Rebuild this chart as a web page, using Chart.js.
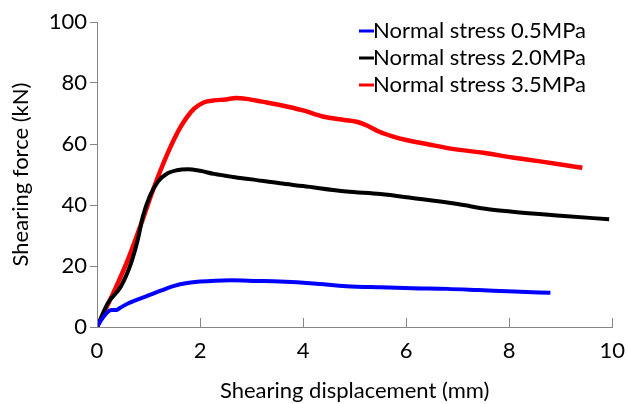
<!DOCTYPE html>
<html>
<head>
<meta charset="utf-8">
<script src="https://cdn.jsdelivr.net/npm/chart.js@4.4.1/dist/chart.umd.min.js"></script>
<style>
  html, body { margin: 0; padding: 0; background: #fff; }
  #wrap { width: 628px; height: 404px; position: relative; }
</style>
</head>
<body>
<div id="wrap"><canvas id="chart"></canvas></div>
<script>
// series (displacement in mm, force in kN)
const dispLow = [0, 0.08, 0.28, 0.38, 0.45, 0.61, 0.93, 1.25, 1.5, 1.75, 2.0, 2.3, 2.6, 3.1, 3.55, 4.2, 4.84, 5.5, 6.12, 6.8, 7.4, 8.1, 8.8]
const forceLow = [0, 2.3, 5.6, 5.6, 6.3, 7.8, 9.9, 12, 13.5, 14.4, 14.9, 15.2, 15.3, 15.1, 14.9, 14.3, 13.4, 13, 12.7, 12.5, 12.1, 11.6, 11.2]

const dispMid = [0, 0.21, 0.46, 0.66, 0.79, 0.89, 1.02, 1.18, 1.37, 1.55, 1.76, 2.0, 2.27, 2.64, 3.0, 3.55, 4.0, 4.84, 5.5, 6.12, 7.0, 7.6, 8.06, 9.0, 9.94]
const forceMid = [0, 7.8, 13.2, 20.9, 28.5, 36.2, 42.7, 47.6, 50.4, 51.4, 51.7, 51.2, 50.2, 49.2, 48.4, 47.1, 46.2, 44.4, 43.6, 42.3, 40.3, 38.6, 37.8, 36.5, 35.3]

const dispHigh = [0, 0.34, 0.61, 0.85, 1.1, 1.36, 1.62, 1.88, 2.08, 2.27, 2.5, 2.7, 2.9, 3.2, 3.55, 4.0, 4.38, 4.8, 5.04, 5.25, 5.48, 5.75, 6.0, 6.4, 6.9, 7.5, 8.06, 8.6, 9.0, 9.42]
const forceHigh = [0, 12, 22.5, 33.5, 45.5, 56.5, 65.5, 71.5, 73.7, 74.3, 74.6, 75.1, 74.8, 73.9, 72.8, 71, 69, 67.9, 67.3, 66, 64, 62.4, 61.3, 60, 58.4, 57.1, 55.6, 54.3, 53.3, 52.2]

const seriesLabels = ['Normal stress 0.5MPa', 'Normal stress 2.0MPa', 'Normal stress 3.5MPa']
const seriesColours = ['#0000ff', '#000000', '#ff0000']
const xTicks = [0, 2, 4, 6, 8, 10]
const yTicks = [0, 20, 40, 60, 80, 100]

const FONT = 'Lato, "Open Sans", sans-serif'
const AXIS_GREY = '#868686'

function toPoints(xs, ys) {
  return xs.map((x, i) => ({ x, y: ys[i] }))
}

// x ticks point up into the plot in the reference
const innerTicks = {
  id: 'innerTicks',
  afterDraw(chart) {
    const { ctx, scales: { x }, chartArea } = chart
    ctx.save()
    ctx.strokeStyle = AXIS_GREY
    ctx.lineWidth = 1
    xTicks.forEach((v) => {
      const px = Math.round(x.getPixelForValue(v)) + 0.5
      ctx.beginPath()
      ctx.moveTo(px, chartArea.bottom)
      ctx.lineTo(px, chartArea.bottom - 9)
      ctx.stroke()
    })
    ctx.restore()
  },
}

// legend drawn as in the reference: short line then label, top right
const lineLegend = {
  id: 'lineLegend',
  afterDraw(chart) {
    const { ctx } = chart
    ctx.save()
    ctx.font = '22px ' + FONT
    ctx.textBaseline = 'middle'
    ctx.textAlign = 'left'
    seriesLabels.forEach((label, i) => {
      const y = 31 + i * 27
      ctx.strokeStyle = seriesColours[i]
      ctx.lineWidth = 3
      ctx.beginPath()
      ctx.moveTo(359, y)
      ctx.lineTo(374, y)
      ctx.stroke()
      ctx.fillStyle = '#000'
      ctx.fillText(label, 373, y)
    })
    ctx.restore()
  },
}

const datasets = [
  toPoints(dispLow, forceLow),
  toPoints(dispMid, forceMid),
  toPoints(dispHigh, forceHigh),
].map((data, i) => ({
  label: seriesLabels[i],
  data,
  borderColor: seriesColours[i],
  backgroundColor: seriesColours[i],
  borderWidth: i === 2 ? 4.5 : 4,
  pointRadius: 0,
  showLine: true,
  cubicInterpolationMode: 'monotone',
  fill: false,
}))

new Chart(document.getElementById('chart'), {
  type: 'scatter',
  data: { datasets },
  options: {
    responsive: true,
    maintainAspectRatio: false,
    animation: false,
    layout: { padding: { top: 22, right: 15, left: 0, bottom: 0 } },
    plugins: {
      legend: { display: false },
      tooltip: { enabled: false },
    },
    scales: {
      x: {
        type: 'linear',
        min: 0,
        max: 10,
        afterBuildTicks: (scale) => { scale.ticks = xTicks.map((v) => ({ value: v })) },
        afterFit: (scale) => { scale.height = 77 },
        border: { display: true, color: AXIS_GREY, width: 1 },
        grid: { display: false },
        ticks: { color: '#000', font: { family: FONT, size: 22 }, padding: 3, maxRotation: 0 },
        title: {
          display: true,
          text: 'Shearing displacement (mm)',
          color: '#000',
          font: { family: FONT, size: 22 },
          padding: { top: 4, bottom: 0 },
        },
      },
      y: {
        min: 0,
        max: 100,
        afterBuildTicks: (scale) => { scale.ticks = yTicks.map((v) => ({ value: v })) },
        afterFit: (scale) => { scale.width = 97 },
        border: { display: true, color: AXIS_GREY, width: 1 },
        grid: { display: true, drawOnChartArea: false, drawTicks: true, tickLength: 7, color: AXIS_GREY },
        ticks: { color: '#000', font: { family: FONT, size: 22 }, padding: 3 },
        title: {
          display: true,
          text: 'Shearing force (kN)',
          color: '#000',
          font: { family: FONT, size: 22 },
          padding: { top: 8, bottom: 8 },
        },
      },
    },
  },
  plugins: [innerTicks, lineLegend],
})
</script>
</body>
</html>
